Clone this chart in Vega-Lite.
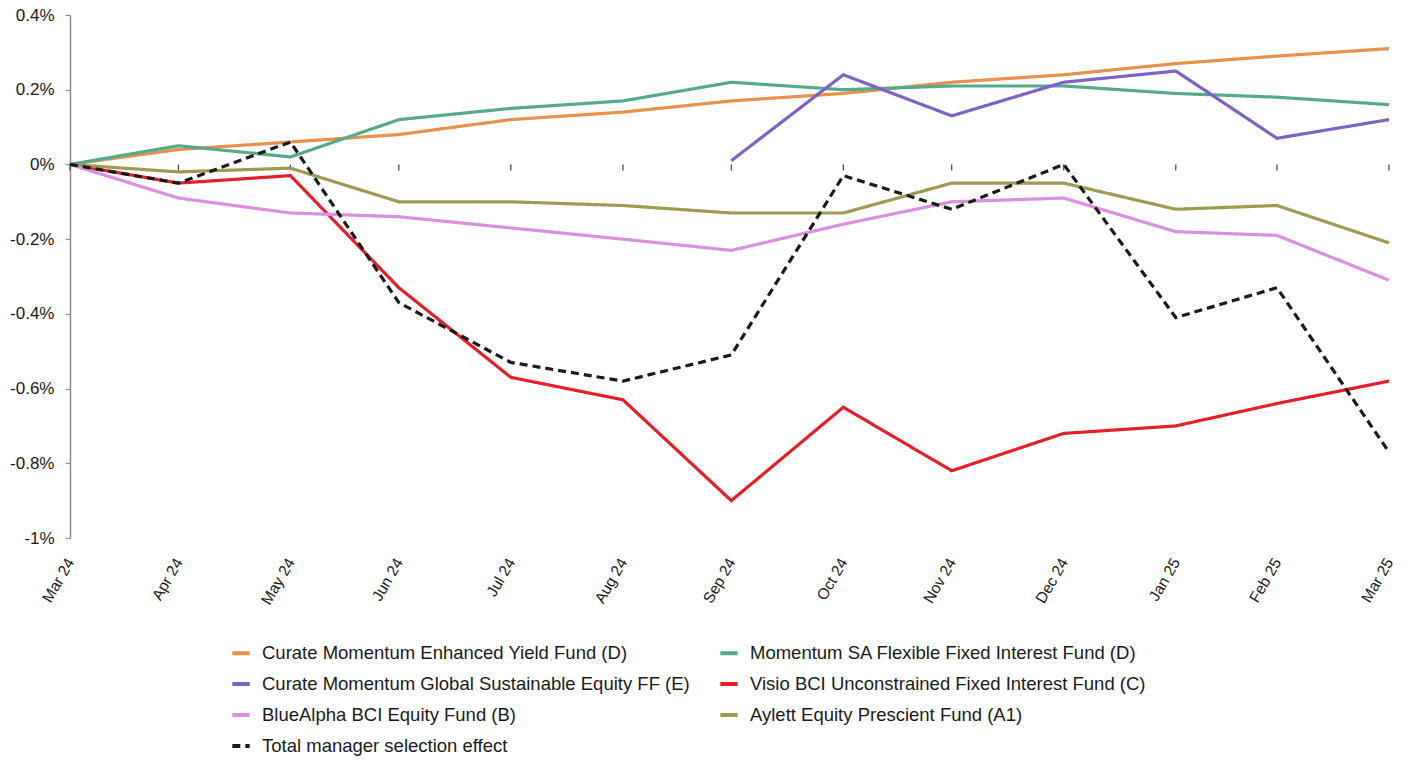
{
  "$schema": "https://vega.github.io/schema/vega-lite/v6.json",
  "autosize": {"type": "none"},
  "width": 1319,
  "height": 523,
  "padding": {"left": 70, "top": 15, "right": 29, "bottom": 222},
  "background": "white",
  "config": {
    "font": "Liberation Sans",
    "view": {"stroke": null}
  },
  "datasets": {
    "series": [
      {"date": "2024-03-31", "series": "Curate Momentum Enhanced Yield Fund (D)", "value": 0},
      {"date": "2024-04-30", "series": "Curate Momentum Enhanced Yield Fund (D)", "value": 0.04},
      {"date": "2024-05-31", "series": "Curate Momentum Enhanced Yield Fund (D)", "value": 0.06},
      {"date": "2024-06-30", "series": "Curate Momentum Enhanced Yield Fund (D)", "value": 0.08},
      {"date": "2024-07-31", "series": "Curate Momentum Enhanced Yield Fund (D)", "value": 0.12},
      {"date": "2024-08-31", "series": "Curate Momentum Enhanced Yield Fund (D)", "value": 0.14},
      {"date": "2024-09-30", "series": "Curate Momentum Enhanced Yield Fund (D)", "value": 0.17},
      {"date": "2024-10-31", "series": "Curate Momentum Enhanced Yield Fund (D)", "value": 0.19},
      {"date": "2024-11-30", "series": "Curate Momentum Enhanced Yield Fund (D)", "value": 0.22},
      {"date": "2024-12-31", "series": "Curate Momentum Enhanced Yield Fund (D)", "value": 0.24},
      {"date": "2025-01-31", "series": "Curate Momentum Enhanced Yield Fund (D)", "value": 0.27},
      {"date": "2025-02-28", "series": "Curate Momentum Enhanced Yield Fund (D)", "value": 0.29},
      {"date": "2025-03-31", "series": "Curate Momentum Enhanced Yield Fund (D)", "value": 0.31},

      {"date": "2024-03-31", "series": "Momentum SA Flexible Fixed Interest Fund (D)", "value": 0},
      {"date": "2024-04-30", "series": "Momentum SA Flexible Fixed Interest Fund (D)", "value": 0.05},
      {"date": "2024-05-31", "series": "Momentum SA Flexible Fixed Interest Fund (D)", "value": 0.02},
      {"date": "2024-06-30", "series": "Momentum SA Flexible Fixed Interest Fund (D)", "value": 0.12},
      {"date": "2024-07-31", "series": "Momentum SA Flexible Fixed Interest Fund (D)", "value": 0.15},
      {"date": "2024-08-31", "series": "Momentum SA Flexible Fixed Interest Fund (D)", "value": 0.17},
      {"date": "2024-09-30", "series": "Momentum SA Flexible Fixed Interest Fund (D)", "value": 0.22},
      {"date": "2024-10-31", "series": "Momentum SA Flexible Fixed Interest Fund (D)", "value": 0.20},
      {"date": "2024-11-30", "series": "Momentum SA Flexible Fixed Interest Fund (D)", "value": 0.21},
      {"date": "2024-12-31", "series": "Momentum SA Flexible Fixed Interest Fund (D)", "value": 0.21},
      {"date": "2025-01-31", "series": "Momentum SA Flexible Fixed Interest Fund (D)", "value": 0.19},
      {"date": "2025-02-28", "series": "Momentum SA Flexible Fixed Interest Fund (D)", "value": 0.18},
      {"date": "2025-03-31", "series": "Momentum SA Flexible Fixed Interest Fund (D)", "value": 0.16},

      {"date": "2024-09-30", "series": "Curate Momentum Global Sustainable Equity FF (E)", "value": 0.01},
      {"date": "2024-10-31", "series": "Curate Momentum Global Sustainable Equity FF (E)", "value": 0.24},
      {"date": "2024-11-30", "series": "Curate Momentum Global Sustainable Equity FF (E)", "value": 0.13},
      {"date": "2024-12-31", "series": "Curate Momentum Global Sustainable Equity FF (E)", "value": 0.22},
      {"date": "2025-01-31", "series": "Curate Momentum Global Sustainable Equity FF (E)", "value": 0.25},
      {"date": "2025-02-28", "series": "Curate Momentum Global Sustainable Equity FF (E)", "value": 0.07},
      {"date": "2025-03-31", "series": "Curate Momentum Global Sustainable Equity FF (E)", "value": 0.12},

      {"date": "2024-03-31", "series": "Visio BCI Unconstrained Fixed Interest Fund (C)", "value": 0},
      {"date": "2024-04-30", "series": "Visio BCI Unconstrained Fixed Interest Fund (C)", "value": -0.05},
      {"date": "2024-05-31", "series": "Visio BCI Unconstrained Fixed Interest Fund (C)", "value": -0.03},
      {"date": "2024-06-30", "series": "Visio BCI Unconstrained Fixed Interest Fund (C)", "value": -0.33},
      {"date": "2024-07-31", "series": "Visio BCI Unconstrained Fixed Interest Fund (C)", "value": -0.57},
      {"date": "2024-08-31", "series": "Visio BCI Unconstrained Fixed Interest Fund (C)", "value": -0.63},
      {"date": "2024-09-30", "series": "Visio BCI Unconstrained Fixed Interest Fund (C)", "value": -0.90},
      {"date": "2024-10-31", "series": "Visio BCI Unconstrained Fixed Interest Fund (C)", "value": -0.65},
      {"date": "2024-11-30", "series": "Visio BCI Unconstrained Fixed Interest Fund (C)", "value": -0.82},
      {"date": "2024-12-31", "series": "Visio BCI Unconstrained Fixed Interest Fund (C)", "value": -0.72},
      {"date": "2025-01-31", "series": "Visio BCI Unconstrained Fixed Interest Fund (C)", "value": -0.70},
      {"date": "2025-02-28", "series": "Visio BCI Unconstrained Fixed Interest Fund (C)", "value": -0.64},
      {"date": "2025-03-31", "series": "Visio BCI Unconstrained Fixed Interest Fund (C)", "value": -0.58},

      {"date": "2024-03-31", "series": "BlueAlpha BCI Equity Fund (B)", "value": 0},
      {"date": "2024-04-30", "series": "BlueAlpha BCI Equity Fund (B)", "value": -0.09},
      {"date": "2024-05-31", "series": "BlueAlpha BCI Equity Fund (B)", "value": -0.13},
      {"date": "2024-06-30", "series": "BlueAlpha BCI Equity Fund (B)", "value": -0.14},
      {"date": "2024-07-31", "series": "BlueAlpha BCI Equity Fund (B)", "value": -0.17},
      {"date": "2024-08-31", "series": "BlueAlpha BCI Equity Fund (B)", "value": -0.20},
      {"date": "2024-09-30", "series": "BlueAlpha BCI Equity Fund (B)", "value": -0.23},
      {"date": "2024-10-31", "series": "BlueAlpha BCI Equity Fund (B)", "value": -0.16},
      {"date": "2024-11-30", "series": "BlueAlpha BCI Equity Fund (B)", "value": -0.10},
      {"date": "2024-12-31", "series": "BlueAlpha BCI Equity Fund (B)", "value": -0.09},
      {"date": "2025-01-31", "series": "BlueAlpha BCI Equity Fund (B)", "value": -0.18},
      {"date": "2025-02-28", "series": "BlueAlpha BCI Equity Fund (B)", "value": -0.19},
      {"date": "2025-03-31", "series": "BlueAlpha BCI Equity Fund (B)", "value": -0.31},

      {"date": "2024-03-31", "series": "Aylett Equity Prescient Fund (A1)", "value": 0},
      {"date": "2024-04-30", "series": "Aylett Equity Prescient Fund (A1)", "value": -0.02},
      {"date": "2024-05-31", "series": "Aylett Equity Prescient Fund (A1)", "value": -0.01},
      {"date": "2024-06-30", "series": "Aylett Equity Prescient Fund (A1)", "value": -0.10},
      {"date": "2024-07-31", "series": "Aylett Equity Prescient Fund (A1)", "value": -0.10},
      {"date": "2024-08-31", "series": "Aylett Equity Prescient Fund (A1)", "value": -0.11},
      {"date": "2024-09-30", "series": "Aylett Equity Prescient Fund (A1)", "value": -0.13},
      {"date": "2024-10-31", "series": "Aylett Equity Prescient Fund (A1)", "value": -0.13},
      {"date": "2024-11-30", "series": "Aylett Equity Prescient Fund (A1)", "value": -0.05},
      {"date": "2024-12-31", "series": "Aylett Equity Prescient Fund (A1)", "value": -0.05},
      {"date": "2025-01-31", "series": "Aylett Equity Prescient Fund (A1)", "value": -0.12},
      {"date": "2025-02-28", "series": "Aylett Equity Prescient Fund (A1)", "value": -0.11},
      {"date": "2025-03-31", "series": "Aylett Equity Prescient Fund (A1)", "value": -0.21},

      {"date": "2024-03-31", "series": "Total manager selection effect", "value": 0},
      {"date": "2024-04-30", "series": "Total manager selection effect", "value": -0.05},
      {"date": "2024-05-31", "series": "Total manager selection effect", "value": 0.06},
      {"date": "2024-06-30", "series": "Total manager selection effect", "value": -0.37},
      {"date": "2024-07-31", "series": "Total manager selection effect", "value": -0.53},
      {"date": "2024-08-31", "series": "Total manager selection effect", "value": -0.58},
      {"date": "2024-09-30", "series": "Total manager selection effect", "value": -0.51},
      {"date": "2024-10-31", "series": "Total manager selection effect", "value": -0.03},
      {"date": "2024-11-30", "series": "Total manager selection effect", "value": -0.12},
      {"date": "2024-12-31", "series": "Total manager selection effect", "value": 0.0},
      {"date": "2025-01-31", "series": "Total manager selection effect", "value": -0.41},
      {"date": "2025-02-28", "series": "Total manager selection effect", "value": -0.33},
      {"date": "2025-03-31", "series": "Total manager selection effect", "value": -0.77}
    ]
  },
  "data": {"name": "series"},
  "encoding": {
    "x": {
      "field": "date",
      "type": "temporal",
      "scale": {"type": "utc", "nice": false},
      "axis": {
        "title": null,
        "domain": false,
        "ticks": false,
        "grid": false,
        "labelExpr": "utcFormat(datum.value, '%b %y')",
        "labelAngle": -60,
        "labelFontSize": 15.5,
        "labelColor": "#1a1a1a",
        "labelPadding": 21,
        "labelOverlap": false,
        "labelFlush": false,
        "values": [
          {"year": 2024, "month": 3, "date": 31, "utc": true},
          {"year": 2024, "month": 4, "date": 30, "utc": true},
          {"year": 2024, "month": 5, "date": 31, "utc": true},
          {"year": 2024, "month": 6, "date": 30, "utc": true},
          {"year": 2024, "month": 7, "date": 31, "utc": true},
          {"year": 2024, "month": 8, "date": 31, "utc": true},
          {"year": 2024, "month": 9, "date": 30, "utc": true},
          {"year": 2024, "month": 10, "date": 31, "utc": true},
          {"year": 2024, "month": 11, "date": 30, "utc": true},
          {"year": 2024, "month": 12, "date": 31, "utc": true},
          {"year": 2025, "month": 1, "date": 31, "utc": true},
          {"year": 2025, "month": 2, "date": 28, "utc": true},
          {"year": 2025, "month": 3, "date": 31, "utc": true}
        ]
      }
    }
  },
  "layer": [
    {
      "mark": {"type": "rule", "color": "#404040", "strokeWidth": 1.2},
      "encoding": {"y": {"datum": 0, "type": "quantitative"}}
    },
    {
      "transform": [{"filter": "datum.series === 'Curate Momentum Enhanced Yield Fund (D)'"}],
      "mark": {"type": "rule", "color": "#404040", "strokeWidth": 1.2},
      "encoding": {
        "y": {"datum": 0, "type": "quantitative"},
        "y2": {"datum": -0.016}
      }
    },
    {
      "mark": {"type": "line", "strokeWidth": 3.2, "strokeJoin": "miter"},
      "encoding": {
        "y": {
          "field": "value",
          "type": "quantitative",
          "scale": {"domain": [-1, 0.4], "nice": false, "zero": false},
          "axis": {
            "title": null,
            "grid": false,
            "values": [0.4, 0.2, 0, -0.2, -0.4, -0.6, -0.8, -1],
            "labelExpr": "datum.value + '%'",
            "domainColor": "#8c8c8c",
            "domainWidth": 1.5,
            "tickColor": "#8c8c8c",
            "tickSize": 5,
            "tickWidth": 1.2,
            "labelFontSize": 17,
            "labelColor": "#1a1a1a",
            "labelPadding": 11
          }
        },
        "color": {
          "field": "series",
          "type": "nominal",
          "sort": [
            "Curate Momentum Enhanced Yield Fund (D)",
            "Curate Momentum Global Sustainable Equity FF (E)",
            "BlueAlpha BCI Equity Fund (B)",
            "Total manager selection effect",
            "Momentum SA Flexible Fixed Interest Fund (D)",
            "Visio BCI Unconstrained Fixed Interest Fund (C)",
            "Aylett Equity Prescient Fund (A1)"
          ],
          "scale": {
            "domain": [
              "Curate Momentum Enhanced Yield Fund (D)",
              "Curate Momentum Global Sustainable Equity FF (E)",
              "BlueAlpha BCI Equity Fund (B)",
              "Total manager selection effect",
              "Momentum SA Flexible Fixed Interest Fund (D)",
              "Visio BCI Unconstrained Fixed Interest Fund (C)",
              "Aylett Equity Prescient Fund (A1)"
            ],
            "range": ["#E8914B", "#7E62C6", "#DB8FE0", "#1a1a1a", "#55AA8B", "#E3202A", "#9E9B50"]
          },
          "legend": {
            "title": null,
            "orient": "none",
            "legendX": 160,
            "legendY": 627,
            "direction": "vertical",
            "columns": 2,
            "columnPadding": 22,
            "rowPadding": 10,
            "symbolType": "stroke",
            "symbolSize": 300,
            "symbolStrokeWidth": 4,
            "labelFontSize": 18.5,
            "labelColor": "#1a1a1a",
            "labelOffset": 10,
            "labelLimit": 700
          }
        },
        "strokeDash": {
          "field": "series",
          "type": "nominal",
          "sort": [
            "Curate Momentum Enhanced Yield Fund (D)",
            "Curate Momentum Global Sustainable Equity FF (E)",
            "BlueAlpha BCI Equity Fund (B)",
            "Total manager selection effect",
            "Momentum SA Flexible Fixed Interest Fund (D)",
            "Visio BCI Unconstrained Fixed Interest Fund (C)",
            "Aylett Equity Prescient Fund (A1)"
          ],
          "scale": {
            "domain": [
              "Curate Momentum Enhanced Yield Fund (D)",
              "Curate Momentum Global Sustainable Equity FF (E)",
              "BlueAlpha BCI Equity Fund (B)",
              "Total manager selection effect",
              "Momentum SA Flexible Fixed Interest Fund (D)",
              "Visio BCI Unconstrained Fixed Interest Fund (C)",
              "Aylett Equity Prescient Fund (A1)"
            ],
            "range": [[1, 0], [1, 0], [1, 0], [8, 5], [1, 0], [1, 0], [1, 0]]
          },
          "legend": {
            "title": null,
            "orient": "none",
            "legendX": 160,
            "legendY": 627,
            "direction": "vertical",
            "columns": 2,
            "columnPadding": 22,
            "rowPadding": 10,
            "symbolType": "stroke",
            "symbolSize": 300,
            "symbolStrokeWidth": 4,
            "labelFontSize": 18.5,
            "labelColor": "#1a1a1a",
            "labelOffset": 10,
            "labelLimit": 700
          }
        }
      }
    }
  ]
}
